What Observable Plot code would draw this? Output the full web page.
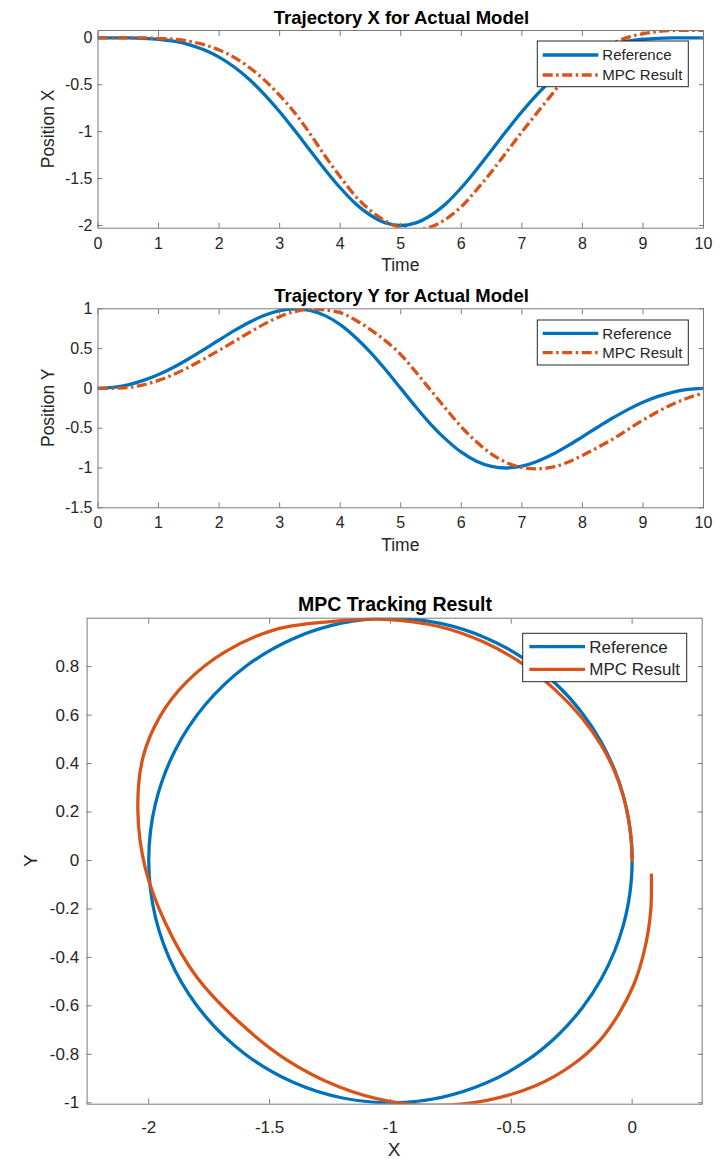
<!DOCTYPE html>
<html>
<head>
<meta charset="utf-8">
<script src="https://cdn.jsdelivr.net/npm/d3@7"></script>
<script src="https://cdn.jsdelivr.net/npm/@observablehq/plot@0.6"></script>
<style>
  html, body { margin: 0; padding: 0; background: #fff; }
  #wrap { position: relative; width: 726px; height: 1159px; overflow: hidden; background: #fff; }
  #overlay { position: absolute; left: 0; top: 0; pointer-events: none; }
</style>
</head>
<body>
<div id="wrap"></div>
<script>
// ---------------- data ----------------
const time = [0,0.25,0.5,0.75,1,1.25,1.5,1.75,2,2.25,2.5,2.75,3,3.25,3.5,3.75,4,4.25,4.5,4.75,5,
              5.25,5.5,5.75,6,6.25,6.5,6.75,7,7.25,7.5,7.75,8,8.25,8.5,8.75,9,9.25,9.5,9.75,10];

const refX = [0,-0.0001,-0.0010,-0.0051,-0.0154,-0.0362,-0.0720,-0.1272,-0.2060,-0.3114,-0.4444,
              -0.6049,-0.7879,-0.9888,-1.1980,-1.4049,-1.5979,-1.7654,-1.8910,-1.9724,-2.0000,
              -1.9724,-1.8910,-1.7654,-1.5979,-1.4049,-1.1980,-0.9888,-0.7879,-0.6049,-0.4444,
              -0.3114,-0.2060,-0.1272,-0.0720,-0.0362,-0.0154,-0.0051,-0.0010,-0.0001,0];

const refY = [0,0.0116,0.0455,0.1006,0.1750,0.2667,0.3725,0.4881,0.6079,0.7251,0.8315,
              0.9186,0.9773,0.9999,0.9802,0.9143,0.8016,0.6436,0.4540,0.2335,0,
              -0.2335,-0.4540,-0.6436,-0.8016,-0.9143,-0.9802,-0.9999,-0.9773,-0.9186,-0.8315,
              -0.7251,-0.6079,-0.4881,-0.3725,-0.2667,-0.1750,-0.1006,-0.0455,-0.0116,0];

const mpcX = [0,0,-0.0001,-0.0010,-0.0052,-0.0157,-0.0367,-0.0731,-0.1291,-0.2091,-0.3161,
              -0.4511,-0.6140,-0.7997,-1.0200,-1.2600,-1.4800,-1.6860,-1.8410,-1.9520,-2.0240,
              -2.0450,-2.0150,-1.9300,-1.8000,-1.6219,-1.4260,-1.2160,-1.0036,-0.8000,-0.6000,
              -0.4000,-0.2450,-0.1340,-0.0580,0.0050,0.0440,0.0670,0.0780,0.0800,0.0800];

const mpcY = [0,0.0010,0.0116,0.0455,0.1006,0.1750,0.2667,0.3700,0.4780,0.5900,0.7020,
              0.8102,0.9012,0.9656,0.9954,0.9850,0.9520,0.8600,0.7390,0.5970,0.4250,
              0.2055,-0.0280,-0.2600,-0.4830,-0.6710,-0.8250,-0.9330,-0.9940,-1.0100,-0.9900,
              -0.9300,-0.8420,-0.7430,-0.6380,-0.5170,-0.3990,-0.2900,-0.1950,-0.1170,-0.0600];

const timeTicks  = [0,1,2,3,4,5,6,7,8,9,10];
const posXTicks  = [-2,-1.5,-1,-0.5,0];
const posYTicks  = [-1.5,-1,-0.5,0,0.5,1];
const trackXTicks = [-2,-1.5,-1,-0.5,0];
const trackYTicks = [-1,-0.8,-0.6,-0.4,-0.2,0,0.2,0.4,0.6,0.8];

const seriesNames = ["Reference", "MPC Result"];
const titles = ["Trajectory X for Actual Model", "Trajectory Y for Actual Model", "MPC Tracking Result"];
const axisLabels = { time: "Time", posX: "Position X", posY: "Position Y", x: "X", y: "Y" };

// ---------------- style ----------------
const FONT = '"Liberation Sans", Arial, Helvetica, sans-serif';
const BLUE = "#0072BD", ORANGE = "#D95319", AXIS = "#7a7a7a", TXT = "#262626";
const DASHDOT = "10,3.5,2.5,3.5";
const fmt = d => String(d);
const wrap = document.getElementById("wrap");

function panel({top, height, ml, mr, mt, mb, xDomain, yDomain, xTicks, yTicks, fontSize, padX, padY, marks}) {
  const svg = Plot.plot({
    width: 726, height,
    marginLeft: ml, marginRight: mr, marginTop: mt, marginBottom: mb,
    style: `font-family:${FONT};font-size:${fontSize}px;color:${TXT};background:transparent;overflow:visible;`,
    x: {domain: xDomain},
    y: {domain: yDomain},
    marks: [
      ...marks,
      Plot.frame({stroke: AXIS, strokeWidth: 1}),
      Plot.axisX(xTicks, {anchor: "bottom", tickSize: 0, tickPadding: padX, tickFormat: fmt, label: null}),
      Plot.axisY(yTicks, {anchor: "left", tickSize: 0, tickPadding: padY, tickFormat: fmt, label: null}),
      Plot.axisX(xTicks, {anchor: "bottom", tickSize: 5, dy: -5, fill: "none", stroke: AXIS, label: null}),
      Plot.axisX(xTicks, {anchor: "top", tickSize: 5, dy: 5, fill: "none", stroke: AXIS, label: null}),
      Plot.axisY(yTicks, {anchor: "left", tickSize: 5, dx: 5, fill: "none", stroke: AXIS, label: null}),
      Plot.axisY(yTicks, {anchor: "right", tickSize: 5, dx: -5, fill: "none", stroke: AXIS, label: null})
    ]
  });
  const div = document.createElement("div");
  div.style.cssText = `position:absolute;left:0;top:${top}px;`;
  div.appendChild(svg);
  wrap.appendChild(div);
}

const solid = (xs, ys, color) => Plot.line(time, {x: xs, y: ys, stroke: color, strokeWidth: 3.3, curve: "catmull-rom", clip: true});
const dashed = (xs, ys, color) => Plot.line(time, {x: xs, y: ys, stroke: color, strokeWidth: 3.3, strokeDasharray: DASHDOT, strokeLinecap: "butt", curve: "catmull-rom", clip: true});

// Panel 1: Trajectory X
panel({
  top: 0, height: 260, ml: 97.5, mr: 23, mt: 30, mb: 32.3,
  xDomain: [0, 10], yDomain: [-2.0288, 0.0778],
  xTicks: timeTicks, yTicks: posXTicks, fontSize: 16, padX: 9, padY: 5.5,
  marks: [solid(time, refX, BLUE), dashed(time, mpcX, ORANGE)]
});

// Panel 2: Trajectory Y
panel({
  top: 280, height: 260, ml: 97.5, mr: 23, mt: 28.3, mb: 32.7,
  xDomain: [0, 10], yDomain: [-1.5, 1],
  xTicks: timeTicks, yTicks: posYTicks, fontSize: 16, padX: 9, padY: 5.5,
  marks: [solid(time, refY, BLUE), dashed(time, mpcY, ORANGE)]
});

// Panel 3: MPC tracking (X vs Y)
panel({
  top: 580, height: 560, ml: 86.6, mr: 24.3, mt: 37.7, mb: 36.3,
  xDomain: [-2.255, 0.29], yDomain: [-1.0058, 0.9999],
  xTicks: trackXTicks, yTicks: trackYTicks, fontSize: 17, padX: 17, padY: 8,
  marks: [solid(refX, refY, BLUE), solid(mpcX, mpcY, ORANGE)]
});

// ---------------- titles, axis labels, legends (overlay) ----------------
function legend(x, y, w, h, row1, row2, lx1, lx2, tx, fs, isDashed) {
  return `<rect x="${x}" y="${y}" width="${w}" height="${h}" fill="#fff" stroke="${TXT}" stroke-width="1"/>` +
    `<line x1="${lx1}" x2="${lx2}" y1="${row1}" y2="${row1}" stroke="${BLUE}" stroke-width="3.3"/>` +
    `<line x1="${lx1}" x2="${lx2}" y1="${row2}" y2="${row2}" stroke="${ORANGE}" stroke-width="3.3"${isDashed ? ` stroke-dasharray="${DASHDOT}"` : ""}/>` +
    `<text x="${tx}" y="${row1}" dy="0.35em" font-size="${fs}" fill="${TXT}">${seriesNames[0]}</text>` +
    `<text x="${tx}" y="${row2}" dy="0.35em" font-size="${fs}" fill="${TXT}">${seriesNames[1]}</text>`;
}
function ylab(x, y, fs, t) {
  return `<text transform="translate(${x},${y}) rotate(-90)" text-anchor="middle" dy="0.35em" font-size="${fs}" fill="${TXT}">${t}</text>`;
}
const ov = `<svg id="overlay" width="726" height="1159" xmlns="http://www.w3.org/2000/svg" font-family='${FONT}'>
  <text x="401.5" y="24" text-anchor="middle" font-size="18.5" font-weight="bold" fill="#000">${titles[0]}</text>
  <text x="401.5" y="302.3" text-anchor="middle" font-size="18.5" font-weight="bold" fill="#000">${titles[1]}</text>
  <text x="395" y="610.7" text-anchor="middle" font-size="19.5" font-weight="bold" fill="#000">${titles[2]}</text>
  <text x="400.3" y="270.5" text-anchor="middle" font-size="17.5" fill="${TXT}">${axisLabels.time}</text>
  <text x="400.3" y="550.5" text-anchor="middle" font-size="17.5" fill="${TXT}">${axisLabels.time}</text>
  <text x="394.2" y="1156" text-anchor="middle" font-size="19" fill="${TXT}">${axisLabels.x}</text>
  ${ylab(47.7, 128.9, 17.5, axisLabels.posX)}
  ${ylab(47.7, 407.8, 17.5, axisLabels.posY)}
  ${ylab(30, 860.7, 19, axisLabels.y)}
  ${legend(537.3, 41, 151, 45.7, 55, 75, 542.7, 598.3, 602.3, 15, true)}
  ${legend(537.3, 320, 151, 45, 333.3, 352.7, 542.7, 598.3, 602.3, 15, true)}
  ${legend(522.7, 633.3, 164, 48.4, 646.7, 669.3, 529.3, 585, 589.3, 17, false)}
</svg>`;
wrap.insertAdjacentHTML("beforeend", ov);
</script>
</body>
</html>
